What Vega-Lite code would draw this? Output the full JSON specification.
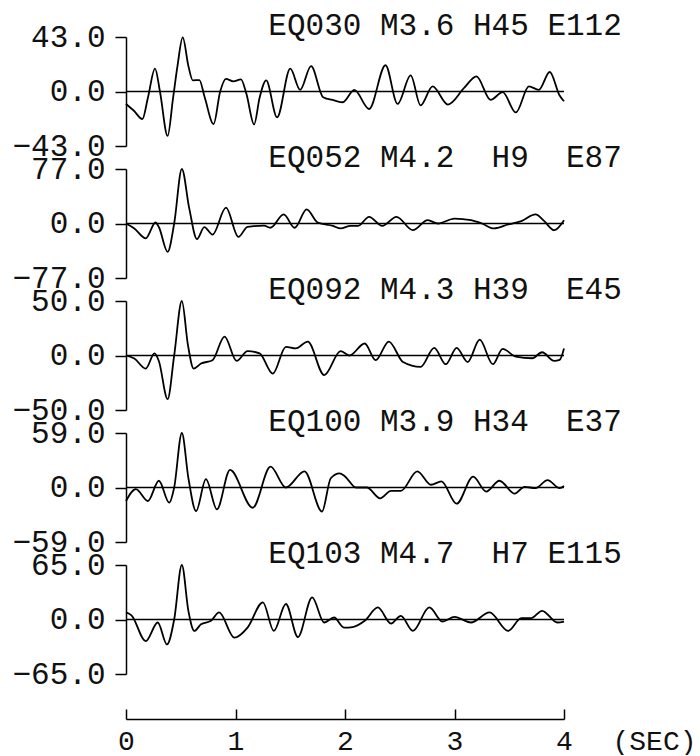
{
  "$schema": "https://vega.github.io/schema/vega-lite/v6.json",
  "background": "white",
  "padding": {"left": 11, "top": 10, "right": 0, "bottom": 0},
  "config": {
    "view": {"stroke": null},
    "font": "Liberation Mono",
    "axis": {
      "labelFont": "Liberation Mono",
      "labelFontSize": 31,
      "labelColor": "#111",
      "domainColor": "black",
      "tickColor": "black",
      "domainWidth": 1.5,
      "tickWidth": 1.5,
      "grid": false,
      "labelOverlap": false,
      "labelFlush": false
    }
  },
  "datasets": {
    "eq030": [
      {"t": 0, "v": -9.8}, {"t": 0.07, "v": -15}, {"t": 0.15, "v": -21.7}, {"t": 0.2, "v": -5},
      {"t": 0.265, "v": 18}, {"t": 0.31, "v": 0}, {"t": 0.38, "v": -35}, {"t": 0.43, "v": -5},
      {"t": 0.47, "v": 20}, {"t": 0.518, "v": 42.7}, {"t": 0.57, "v": 20}, {"t": 0.61, "v": 8.8},
      {"t": 0.67, "v": 9}, {"t": 0.72, "v": -5}, {"t": 0.8, "v": -25.7}, {"t": 0.86, "v": 0},
      {"t": 0.913, "v": 10}, {"t": 0.98, "v": 8}, {"t": 1.05, "v": 9.5}, {"t": 1.1, "v": -2},
      {"t": 1.17, "v": -26}, {"t": 1.22, "v": -5}, {"t": 1.28, "v": 8.8}, {"t": 1.38, "v": -20.4},
      {"t": 1.5, "v": 18}, {"t": 1.59, "v": 1.3}, {"t": 1.69, "v": 20}, {"t": 1.8, "v": -4.5},
      {"t": 1.9, "v": -7}, {"t": 1.98, "v": -8.5}, {"t": 2.085, "v": 1.3}, {"t": 2.22, "v": -13.8},
      {"t": 2.37, "v": 20.7}, {"t": 2.48, "v": -9.8}, {"t": 2.6, "v": 12.7}, {"t": 2.69, "v": -11},
      {"t": 2.8, "v": 4}, {"t": 2.94, "v": -10.3}, {"t": 3.09, "v": 3}, {"t": 3.2, "v": 12},
      {"t": 3.33, "v": -6.6}, {"t": 3.44, "v": -0.5}, {"t": 3.56, "v": -16.5}, {"t": 3.68, "v": 4},
      {"t": 3.77, "v": 1.3}, {"t": 3.87, "v": 15.4}, {"t": 3.96, "v": -3.2}, {"t": 4.0, "v": -7.7}
    ],
    "eq052": [
      {"t": 0, "v": 0}, {"t": 0.076, "v": -7}, {"t": 0.18, "v": -21}, {"t": 0.27, "v": 1.4},
      {"t": 0.3, "v": -5}, {"t": 0.38, "v": -40}, {"t": 0.44, "v": 0}, {"t": 0.51, "v": 77},
      {"t": 0.578, "v": 21}, {"t": 0.648, "v": -22}, {"t": 0.715, "v": -5}, {"t": 0.79, "v": -15.7},
      {"t": 0.913, "v": 22.3}, {"t": 1.026, "v": -19}, {"t": 1.11, "v": -4.7}, {"t": 1.26, "v": -3},
      {"t": 1.32, "v": -6}, {"t": 1.44, "v": 12.8}, {"t": 1.54, "v": -6}, {"t": 1.65, "v": 20},
      {"t": 1.75, "v": 1.4}, {"t": 1.89, "v": -3.3}, {"t": 1.96, "v": -7}, {"t": 2.05, "v": -3.3},
      {"t": 2.12, "v": -3.3}, {"t": 2.22, "v": 9.5}, {"t": 2.34, "v": -3.3}, {"t": 2.47, "v": 9.5},
      {"t": 2.62, "v": -9.5}, {"t": 2.755, "v": 4.7}, {"t": 2.85, "v": 0}, {"t": 3.0, "v": 7},
      {"t": 3.15, "v": 4.7}, {"t": 3.25, "v": 0}, {"t": 3.36, "v": -7}, {"t": 3.49, "v": -1.4},
      {"t": 3.61, "v": 3.3}, {"t": 3.74, "v": 12.8}, {"t": 3.82, "v": 3.3}, {"t": 3.91, "v": -9.5},
      {"t": 4.0, "v": 4.7}
    ],
    "eq092": [
      {"t": 0, "v": 0}, {"t": 0.076, "v": -2.8}, {"t": 0.18, "v": -12}, {"t": 0.26, "v": 2},
      {"t": 0.3, "v": -5}, {"t": 0.38, "v": -40}, {"t": 0.44, "v": 0}, {"t": 0.51, "v": 50},
      {"t": 0.565, "v": 10}, {"t": 0.618, "v": -12}, {"t": 0.685, "v": -7.4}, {"t": 0.79, "v": -4.3},
      {"t": 0.9, "v": 17.3}, {"t": 1.01, "v": -5}, {"t": 1.11, "v": 4}, {"t": 1.22, "v": 2},
      {"t": 1.34, "v": -16.7}, {"t": 1.46, "v": 8}, {"t": 1.55, "v": 6.5}, {"t": 1.66, "v": 12.7},
      {"t": 1.81, "v": -18}, {"t": 1.96, "v": 4}, {"t": 2.04, "v": 0}, {"t": 2.18, "v": 11},
      {"t": 2.28, "v": -4.3}, {"t": 2.4, "v": 12.7}, {"t": 2.53, "v": -6}, {"t": 2.69, "v": -10.5},
      {"t": 2.815, "v": 7}, {"t": 2.92, "v": -8}, {"t": 3.02, "v": 7}, {"t": 3.12, "v": -6},
      {"t": 3.23, "v": 14.5}, {"t": 3.35, "v": -8}, {"t": 3.44, "v": 6}, {"t": 3.56, "v": -1},
      {"t": 3.71, "v": -2.5}, {"t": 3.8, "v": 3}, {"t": 3.91, "v": -5}, {"t": 3.96, "v": -4},
      {"t": 4.0, "v": 6.5}
    ],
    "eq100": [
      {"t": 0, "v": -14.6}, {"t": 0.09, "v": -1.8}, {"t": 0.2, "v": -14.6}, {"t": 0.3, "v": 7.3},
      {"t": 0.395, "v": -16.4}, {"t": 0.44, "v": 0}, {"t": 0.51, "v": 59}, {"t": 0.57, "v": 10},
      {"t": 0.64, "v": -25.5}, {"t": 0.73, "v": 9}, {"t": 0.83, "v": -23.7}, {"t": 0.95, "v": 19},
      {"t": 1.157, "v": -21.9}, {"t": 1.32, "v": 22.6}, {"t": 1.46, "v": 0}, {"t": 1.63, "v": 17.5},
      {"t": 1.79, "v": -26}, {"t": 1.87, "v": 10}, {"t": 1.95, "v": 15.3}, {"t": 2.0, "v": 12},
      {"t": 2.1, "v": 0}, {"t": 2.2, "v": 0}, {"t": 2.32, "v": -11.7}, {"t": 2.42, "v": -3.6},
      {"t": 2.51, "v": -3.6}, {"t": 2.66, "v": 17.5}, {"t": 2.785, "v": 3}, {"t": 2.88, "v": 6.6},
      {"t": 3.02, "v": -17.5}, {"t": 3.17, "v": 11.7}, {"t": 3.29, "v": -4.4}, {"t": 3.41, "v": 7.3},
      {"t": 3.55, "v": -6.6}, {"t": 3.64, "v": 0.7}, {"t": 3.74, "v": -0.7}, {"t": 3.85, "v": 8},
      {"t": 3.96, "v": -0.7}, {"t": 4.0, "v": 1.8}
    ],
    "eq103": [
      {"t": 0, "v": 8.4}, {"t": 0.05, "v": 5}, {"t": 0.18, "v": -25.7}, {"t": 0.29, "v": -3.6},
      {"t": 0.374, "v": -29.7}, {"t": 0.44, "v": 0}, {"t": 0.51, "v": 65}, {"t": 0.57, "v": 10},
      {"t": 0.624, "v": -13.6}, {"t": 0.685, "v": -5.6}, {"t": 0.776, "v": -1.6}, {"t": 0.85, "v": 8.4},
      {"t": 0.99, "v": -21.7}, {"t": 1.11, "v": -9.6}, {"t": 1.25, "v": 20.5}, {"t": 1.35, "v": -13.6},
      {"t": 1.46, "v": 18.5}, {"t": 1.57, "v": -20.9}, {"t": 1.7, "v": 26.5}, {"t": 1.81, "v": -3.6},
      {"t": 1.9, "v": 2.4}, {"t": 1.99, "v": -9.6}, {"t": 2.07, "v": -9}, {"t": 2.18, "v": -1.6},
      {"t": 2.3, "v": 14.4}, {"t": 2.42, "v": -4.8}, {"t": 2.51, "v": 4.4}, {"t": 2.62, "v": -13.6},
      {"t": 2.77, "v": 14.4}, {"t": 2.89, "v": -2.4}, {"t": 3.0, "v": 3.2}, {"t": 3.15, "v": -3.6},
      {"t": 3.32, "v": 8.4}, {"t": 3.49, "v": -13.6}, {"t": 3.61, "v": 1.6}, {"t": 3.7, "v": 1.6},
      {"t": 3.8, "v": 10.4}, {"t": 3.94, "v": -3.6}, {"t": 4.0, "v": -2.4}
    ]
  },
  "vconcat": [
    {
      "width": 438, "height": 109,
      "resolve": {"axis": {"x": "independent", "y": "independent"}},
      "layer": [
        {"data": {"name": "eq030"}, "mark": {"type": "line", "color": "black", "strokeWidth": 1.8, "interpolate": "monotone"},
         "encoding": {
           "x": {"field": "t", "type": "quantitative", "scale": {"domain": [0, 4], "nice": false, "zero": false}, "axis": null},
           "y": {"field": "v", "type": "quantitative", "scale": {"domain": [-43, 43], "nice": false, "zero": false},
                 "axis": {"values": [-43, 0, 43], "format": ".1f", "tickSize": 11, "labelPadding": 10, "title": null}}}},
        {"data": {"values": [{"z": 0}]}, "mark": {"type": "rule", "color": "black", "strokeWidth": 1.5},
         "encoding": {"y": {"field": "z", "type": "quantitative", "axis": null}}},
        {"data": {"values": [{"label": "EQ030\u00a0M3.6\u00a0H45\u00a0E112", "x": 1.3, "y": 43}]},
         "mark": {"type": "text", "align": "left", "baseline": "alphabetic", "dy": -2, "fontSize": 31, "font": "Liberation Mono", "color": "#111"},
         "encoding": {"x": {"field": "x", "type": "quantitative", "axis": null}, "y": {"field": "y", "type": "quantitative", "axis": null}, "text": {"field": "label"}}}
      ]
    },
    {
      "width": 438, "height": 109,
      "resolve": {"axis": {"x": "independent", "y": "independent"}},
      "layer": [
        {"data": {"name": "eq052"}, "mark": {"type": "line", "color": "black", "strokeWidth": 1.8, "interpolate": "monotone"},
         "encoding": {
           "x": {"field": "t", "type": "quantitative", "scale": {"domain": [0, 4], "nice": false, "zero": false}, "axis": null},
           "y": {"field": "v", "type": "quantitative", "scale": {"domain": [-77, 77], "nice": false, "zero": false},
                 "axis": {"values": [-77, 0, 77], "format": ".1f", "tickSize": 11, "labelPadding": 10, "title": null}}}},
        {"data": {"values": [{"z": 0}]}, "mark": {"type": "rule", "color": "black", "strokeWidth": 1.5},
         "encoding": {"y": {"field": "z", "type": "quantitative", "axis": null}}},
        {"data": {"values": [{"label": "EQ052\u00a0M4.2\u00a0\u00a0H9\u00a0\u00a0E87", "x": 1.3, "y": 77}]},
         "mark": {"type": "text", "align": "left", "baseline": "alphabetic", "dy": -2, "fontSize": 31, "font": "Liberation Mono", "color": "#111"},
         "encoding": {"x": {"field": "x", "type": "quantitative", "axis": null}, "y": {"field": "y", "type": "quantitative", "axis": null}, "text": {"field": "label"}}}
      ]
    },
    {
      "width": 438, "height": 109,
      "resolve": {"axis": {"x": "independent", "y": "independent"}},
      "layer": [
        {"data": {"name": "eq092"}, "mark": {"type": "line", "color": "black", "strokeWidth": 1.8, "interpolate": "monotone"},
         "encoding": {
           "x": {"field": "t", "type": "quantitative", "scale": {"domain": [0, 4], "nice": false, "zero": false}, "axis": null},
           "y": {"field": "v", "type": "quantitative", "scale": {"domain": [-50, 50], "nice": false, "zero": false},
                 "axis": {"values": [-50, 0, 50], "format": ".1f", "tickSize": 11, "labelPadding": 10, "title": null}}}},
        {"data": {"values": [{"z": 0}]}, "mark": {"type": "rule", "color": "black", "strokeWidth": 1.5},
         "encoding": {"y": {"field": "z", "type": "quantitative", "axis": null}}},
        {"data": {"values": [{"label": "EQ092\u00a0M4.3\u00a0H39\u00a0\u00a0E45", "x": 1.3, "y": 50}]},
         "mark": {"type": "text", "align": "left", "baseline": "alphabetic", "dy": -2, "fontSize": 31, "font": "Liberation Mono", "color": "#111"},
         "encoding": {"x": {"field": "x", "type": "quantitative", "axis": null}, "y": {"field": "y", "type": "quantitative", "axis": null}, "text": {"field": "label"}}}
      ]
    },
    {
      "width": 438, "height": 109,
      "resolve": {"axis": {"x": "independent", "y": "independent"}},
      "layer": [
        {"data": {"name": "eq100"}, "mark": {"type": "line", "color": "black", "strokeWidth": 1.8, "interpolate": "monotone"},
         "encoding": {
           "x": {"field": "t", "type": "quantitative", "scale": {"domain": [0, 4], "nice": false, "zero": false}, "axis": null},
           "y": {"field": "v", "type": "quantitative", "scale": {"domain": [-59, 59], "nice": false, "zero": false},
                 "axis": {"values": [-59, 0, 59], "format": ".1f", "tickSize": 11, "labelPadding": 10, "title": null}}}},
        {"data": {"values": [{"z": 0}]}, "mark": {"type": "rule", "color": "black", "strokeWidth": 1.5},
         "encoding": {"y": {"field": "z", "type": "quantitative", "axis": null}}},
        {"data": {"values": [{"label": "EQ100\u00a0M3.9\u00a0H34\u00a0\u00a0E37", "x": 1.3, "y": 59}]},
         "mark": {"type": "text", "align": "left", "baseline": "alphabetic", "dy": -2, "fontSize": 31, "font": "Liberation Mono", "color": "#111"},
         "encoding": {"x": {"field": "x", "type": "quantitative", "axis": null}, "y": {"field": "y", "type": "quantitative", "axis": null}, "text": {"field": "label"}}}
      ]
    },
    {
      "width": 438, "height": 109,
      "resolve": {"axis": {"x": "independent", "y": "independent"}},
      "layer": [
        {"data": {"name": "eq103"}, "mark": {"type": "line", "color": "black", "strokeWidth": 1.8, "interpolate": "monotone"},
         "encoding": {
           "x": {"field": "t", "type": "quantitative", "scale": {"domain": [0, 4], "nice": false, "zero": false},
                 "axis": {"orient": "bottom", "offset": 45, "values": [0, 1, 2, 3, 4], "format": "d", "tickSize": -10, "labelPadding": 40,
                          "labelFontSize": 28, "labelBaseline": "alphabetic", "title": "(SEC)", "titleFont": "Liberation Mono", "titleFontSize": 28, "titleFontWeight": "normal",
                          "titleColor": "#111", "titleAlign": "left", "titleBaseline": "alphabetic", "titleX": 486, "titleY": 30, "titleAngle": 0}},
           "y": {"field": "v", "type": "quantitative", "scale": {"domain": [-65, 65], "nice": false, "zero": false},
                 "axis": {"values": [-65, 0, 65], "format": ".1f", "tickSize": 11, "labelPadding": 10, "title": null}}}},
        {"data": {"values": [{"z": 0}]}, "mark": {"type": "rule", "color": "black", "strokeWidth": 1.5},
         "encoding": {"y": {"field": "z", "type": "quantitative", "axis": null}}},
        {"data": {"values": [{"label": "EQ103\u00a0M4.7\u00a0\u00a0H7\u00a0E115", "x": 1.3, "y": 65}]},
         "mark": {"type": "text", "align": "left", "baseline": "alphabetic", "dy": -2, "fontSize": 31, "font": "Liberation Mono", "color": "#111"},
         "encoding": {"x": {"field": "x", "type": "quantitative", "axis": null}, "y": {"field": "y", "type": "quantitative", "axis": null}, "text": {"field": "label"}}}
      ]
    }
  ],
  "spacing": 23,
  "bounds": "flush"
}
